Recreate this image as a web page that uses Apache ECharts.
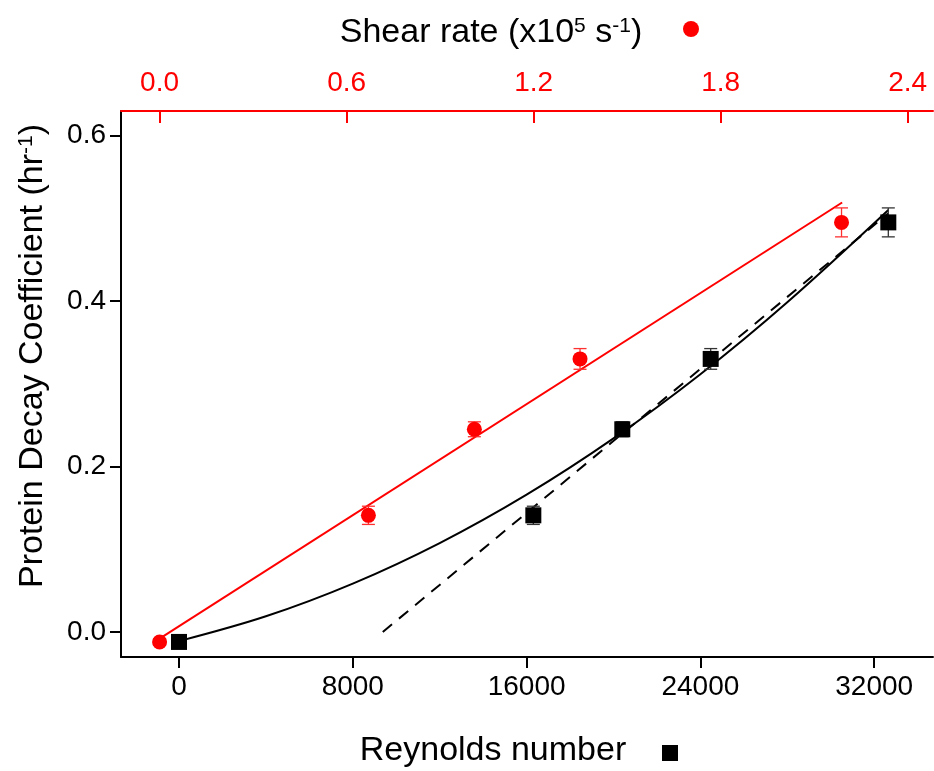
<!DOCTYPE html>
<html>
<head>
<meta charset="utf-8">
<script src="https://cdn.jsdelivr.net/npm/echarts@6/dist/echarts.min.js"></script>
<style>
html,body{margin:0;padding:0;background:#fff;}
#chart{width:934px;height:771px;}
</style>
</head>
<body>
<div id="chart"></div>
<script>
// ---- tick labels ----
const shearTicks = [0, 0.6, 1.2, 1.8, 2.4];
const reTicks = [0, 8000, 16000, 24000, 32000];
const yTicks = [0, 0.2, 0.4, 0.6];

// ---- measured data ----
const decay = [-0.012, 0.141, 0.245, 0.330, 0.495];
const shearRate = [0, 0.670, 1.010, 1.349, 2.188];
const shearErr = [0.004, 0.011, 0.009, 0.0125, 0.0175];
const reynolds = [0, 16310, 20405, 24474, 32650];
const reErr = [0.004, 0.011, 0.009, 0.0125, 0.0175];

// ---- fit lines ----
const shearFitX = [0, 2.19];
const shearFitY = [-0.008, 0.519];
const reCurveX = [0, 4000, 8000, 12000, 16000, 20000, 24000, 28000, 32650];
const reCurveY = [-0.011, 0.019, 0.0585, 0.1075, 0.166, 0.234, 0.3115, 0.3985, 0.510];
const reDashX = [9380, 32650];
const reDashY = [0.0, 0.506];

const FONT = 'Liberation Sans, Arial, Helvetica, sans-serif';
const zip = (a, b) => a.map((v, i) => [v, b[i]]);

function errBars(color) {
  return function (params, api) {
    const x = api.value(0), lo = api.value(1), hi = api.value(2);
    const p1 = api.coord([x, lo]);
    const p2 = api.coord([x, hi]);
    const hw = 6.5;
    const st = { stroke: color, lineWidth: 1.3 };
    return {
      type: 'group',
      children: [
        { type: 'line', shape: { x1: p1[0], y1: p1[1], x2: p2[0], y2: p2[1] }, style: st },
        { type: 'line', shape: { x1: p1[0] - hw, y1: p1[1], x2: p1[0] + hw, y2: p1[1] }, style: st },
        { type: 'line', shape: { x1: p2[0] - hw, y1: p2[1], x2: p2[0] + hw, y2: p2[1] }, style: st }
      ]
    };
  };
}

const chart = echarts.init(document.getElementById('chart'), null, { renderer: 'canvas' });

const option = {
  animation: false,
  backgroundColor: '#fff',
  textStyle: { fontFamily: FONT },
  grid: { left: 121, top: 111, right: 1, bottom: 114, containLabel: false, outerBoundsMode: 'none' },
  legend: [
    {
      data: [{ name: 'Shear rate', icon: 'circle' }],
      left: 683, top: 21, padding: 0, itemWidth: 16, itemHeight: 16,
      selectedMode: false, formatter: function () { return ''; }
    },
    {
      data: [{ name: 'Reynolds number', icon: 'rect' }],
      left: 662, top: 745, padding: 0, itemWidth: 16, itemHeight: 16,
      selectedMode: false, formatter: function () { return ''; }
    }
  ],
  xAxis: [
    {
      type: 'value', position: 'bottom',
      min: -2670, max: 34707,
      splitLine: { show: false },
      axisLine: { onZero: false, lineStyle: { color: '#000', width: 2 } },
      axisTick: { customValues: reTicks, length: 11, lineStyle: { color: '#000', width: 2 } },
      axisLabel: { customValues: reTicks, fontSize: 28, color: '#000', margin: 16, fontFamily: FONT,
        formatter: v => String(v) },
      name: 'Reynolds number', nameLocation: 'middle', nameGap: 77,
      nameTextStyle: { fontSize: 34, color: '#000', fontFamily: FONT, padding: [0, 68, 0, 0] }
    },
    {
      type: 'value', position: 'top',
      min: -0.1238, max: 2.4815,
      splitLine: { show: false },
      axisLine: { onZero: false, lineStyle: { color: '#ff0000', width: 2 } },
      axisTick: { customValues: shearTicks, inside: true, length: 12, lineStyle: { color: '#ff0000', width: 2 } },
      axisLabel: { customValues: shearTicks, fontSize: 28, color: '#ff0000', margin: 14, fontFamily: FONT,
        formatter: v => v.toFixed(1) },
      name: 'Shear rate (x10{sup|5} s{sup|-1})', nameLocation: 'middle', nameGap: 61,
      nameTextStyle: {
        fontSize: 34, color: '#000', fontFamily: FONT, padding: [0, 72, 0, 0],
        rich: { sup: { fontSize: 21, verticalAlign: 'top', color: '#000', fontFamily: FONT } }
      }
    }
  ],
  yAxis: [
    {
      type: 'value',
      min: -0.0302, max: 0.6296,
      splitLine: { show: false },
      axisLine: { onZero: false, lineStyle: { color: '#000', width: 2 } },
      axisTick: { customValues: yTicks, length: 11, lineStyle: { color: '#000', width: 2 } },
      axisLabel: { customValues: yTicks, fontSize: 28, color: '#000', margin: 15, fontFamily: FONT,
        formatter: v => v.toFixed(1) },
      name: 'Protein Decay Coefficient (hr{sup|-1})', nameLocation: 'middle', nameGap: 71, nameRotate: 90,
      nameTextStyle: {
        fontSize: 34, color: '#000', fontFamily: FONT, padding: [0, 0, 0, 56],
        rich: { sup: { fontSize: 21, verticalAlign: 'top', color: '#000', fontFamily: FONT } }
      }
    }
  ],
  series: [
    {
      name: 'Shear fit', type: 'line', xAxisIndex: 1, yAxisIndex: 0,
      data: zip(shearFitX, shearFitY), showSymbol: false, symbol: 'none',
      lineStyle: { color: '#ff0000', width: 2 }, z: 2, silent: true
    },
    {
      name: 'Reynolds curve', type: 'line', xAxisIndex: 0, yAxisIndex: 0,
      data: zip(reCurveX, reCurveY), smooth: 0.35, showSymbol: false, symbol: 'none',
      lineStyle: { color: '#000', width: 2 }, z: 2, silent: true
    },
    {
      name: 'Reynolds linear', type: 'line', xAxisIndex: 0, yAxisIndex: 0,
      data: zip(reDashX, reDashY), showSymbol: false, symbol: 'none',
      lineStyle: { color: '#000', width: 2, type: [12, 9] }, z: 2, silent: true
    },
    {
      name: 'Shear err', type: 'custom', xAxisIndex: 1, yAxisIndex: 0,
      data: shearRate.map((x, i) => [x, decay[i] - shearErr[i], decay[i] + shearErr[i]]),
      encode: { x: 0, y: [1, 2] }, renderItem: errBars('#ff3030'), z: 3, silent: true
    },
    {
      name: 'Reynolds err', type: 'custom', xAxisIndex: 0, yAxisIndex: 0,
      data: reynolds.map((x, i) => [x, decay[i] - reErr[i], decay[i] + reErr[i]]),
      encode: { x: 0, y: [1, 2] }, renderItem: errBars('#333333'), z: 3, silent: true
    },
    {
      name: 'Shear rate', type: 'scatter', xAxisIndex: 1, yAxisIndex: 0,
      data: zip(shearRate, decay), symbol: 'circle', symbolSize: 15,
      itemStyle: { color: '#ff0000', opacity: 1 }, z: 4
    },
    {
      name: 'Reynolds number', type: 'scatter', xAxisIndex: 0, yAxisIndex: 0,
      data: zip(reynolds, decay), symbol: 'rect', symbolSize: 16,
      itemStyle: { color: '#000000', opacity: 1 }, z: 4
    }
  ]
};
chart.setOption(option);
</script>
</body>
</html>
